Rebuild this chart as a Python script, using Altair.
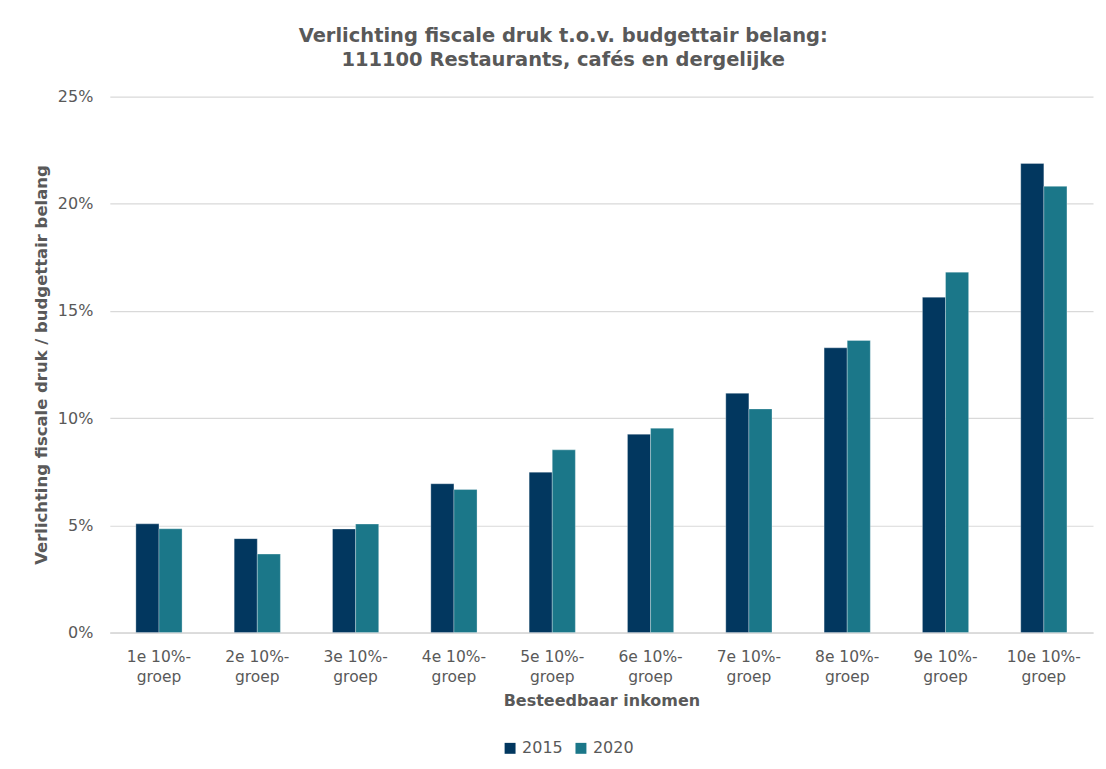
import altair as alt
import pandas as pd

categories = ["1e 10%-groep", "2e 10%-groep", "3e 10%-groep", "4e 10%-groep", "5e 10%-groep",
              "6e 10%-groep", "7e 10%-groep", "8e 10%-groep", "9e 10%-groep", "10e 10%-groep"]
years = ["2015", "2020"]
values_2015 = [5.07, 4.38, 4.83, 6.94, 7.48, 9.25, 11.16, 13.28, 15.64, 21.88]
values_2020 = [4.84, 3.66, 5.06, 6.67, 8.52, 9.53, 10.43, 13.62, 16.81, 20.81]
colors = ["#02375F", "#1B7789"]

rows = []
for c, a, b in zip(categories, values_2015, values_2020):
    rows.append({"groep": c, "jaar": "2015", "waarde": a / 100})
    rows.append({"groep": c, "jaar": "2020", "waarde": b / 100})
df = pd.DataFrame(rows)

FONT = "DejaVu Sans"
GREY = "#595959"

chart = alt.Chart(df).mark_bar(stroke="white", strokeWidth=0.6, strokeOpacity=0.5).encode(
    x=alt.X("groep:N", sort=categories,
            scale=alt.Scale(paddingInner=0.53, paddingOuter=0.265),
            axis=alt.Axis(title="Besteedbaar inkomen", labelAngle=0,
                          labelExpr="split(replace(datum.label, '-groep', '-|groep'), '|')",
                          labelFont=FONT, labelFontSize=15.5, labelColor=GREY,
                          labelLineHeight=20, labelPadding=17,
                          titleFont=FONT, titleFontSize=16, titleFontWeight="bold",
                          titleColor=GREY, titlePadding=8,
                          ticks=False, domainColor="#d9d9d9", domainWidth=1.5)),
    xOffset=alt.XOffset("jaar:N", sort=years),
    y=alt.Y("waarde:Q",
            scale=alt.Scale(domain=[0, 0.25]),
            axis=alt.Axis(title="Verlichting fiscale druk / budgettair belang",
                          format=".0%", values=[0, 0.05, 0.10, 0.15, 0.20, 0.25],
                          labelFont=FONT, labelFontSize=16, labelColor=GREY, labelPadding=17,
                          titleFont=FONT, titleFontSize=16.5, titleFontWeight="bold",
                          titleColor=GREY, titlePadding=8,
                          ticks=False, domain=False, gridColor="#d9d9d9", gridWidth=1.2)),
    color=alt.Color("jaar:N", sort=years,
                    scale=alt.Scale(domain=years, range=colors),
                    legend=alt.Legend(title=None, orient="none", direction="horizontal",
                                      legendX=393, legendY=645,
                                      symbolType="square", symbolSize=120,
                                      symbolStrokeWidth=0,
                                      labelFont=FONT, labelFontSize=16, labelColor=GREY,
                                      columnPadding=10)),
).properties(
    width=985,
    height=537,
    padding={"left": 25, "top": 17, "right": 5, "bottom": 5},
    title=alt.TitleParams(
        text=["Verlichting fiscale druk t.o.v. budgettair belang:",
              "111100 Restaurants, cafés en dergelijke"],
        font=FONT, fontSize=19.5, fontWeight="bold", color=GREY,
        anchor="middle", frame="bounds", offset=18, lineHeight=24),
).configure_view(strokeWidth=0)

chart.save("out.html", embed_options={"renderer": "svg", "actions": False})
